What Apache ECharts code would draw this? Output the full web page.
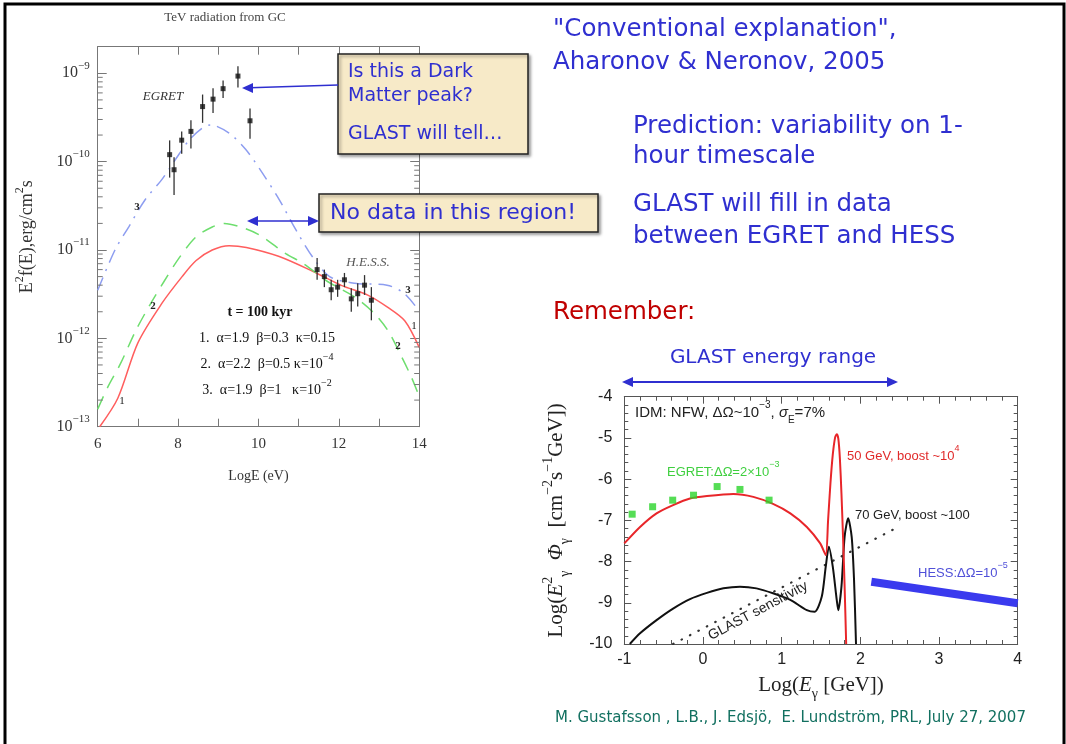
<!DOCTYPE html>
<html><head><meta charset="utf-8">
<script src="https://cdn.jsdelivr.net/npm/echarts@6/dist/echarts.min.js"></script>
<style>html,body{margin:0;padding:0;background:#fff}#c{width:1066px;height:744px}</style>
</head><body><div id="c"></div>
<script>
// ---------- Left panel data (LogE [eV] vs E^2 f(E) [erg/cm^2 s]) ----------
const chartTitle = 'TeV radiation from GC';
const leftXTicks = [6, 8, 10, 12, 14];
const leftYExps = [-13, -12, -11, -10, -9];
const curve1X = [6.05, 6.5, 7.0, 7.6, 8.1, 8.45, 8.85, 9.27, 9.7, 10.5, 11.35, 12.06, 12.72, 13.22, 13.64, 14.0];
const curve1Y = [1.0e-13, 2.1e-13, 8.9e-13, 2.5e-12, 5.0e-12, 7.6e-12, 1.0e-11, 1.12e-11, 1.07e-11, 8.5e-12, 5.75e-12, 3.98e-12, 3.09e-12, 2.24e-12, 1.58e-12, 7.9e-13];
const curve2X = [6.0, 6.25, 6.56, 6.95, 7.3, 7.65, 8.04, 8.45, 8.85, 9.15, 9.68, 10.1, 10.68, 11.1, 11.72, 12.39, 12.89, 13.22, 13.56, 13.81, 14.0];
const curve2Y = [1.58e-13, 2.8e-13, 5.1e-13, 1.23e-12, 2.4e-12, 4.4e-12, 8.3e-12, 1.41e-11, 1.82e-11, 2.0e-11, 1.74e-11, 1.41e-11, 9.1e-12, 7.1e-12, 4.4e-12, 2.95e-12, 1.9e-12, 1.23e-12, 6.2e-13, 3.6e-13, 2.2e-13];
const curve3X = [6.0, 6.43, 6.77, 7.18, 7.6, 7.93, 8.27, 8.6, 8.81, 9.27, 9.68, 10.1, 10.52, 10.93, 11.35, 11.77, 12.4, 13.2, 13.6, 13.9];
const curve3Y = [3.5e-12, 1.0e-11, 1.82e-11, 3.7e-11, 6.3e-11, 1.05e-10, 1.74e-10, 2.4e-10, 2.6e-10, 2.1e-10, 1.38e-10, 7.4e-11, 3.7e-11, 1.7e-11, 8.3e-12, 5.0e-12, 4.2e-12, 4.0e-12, 3.3e-12, 2.34e-12];
const egretX = [7.79, 7.90, 8.09, 8.32, 8.61, 8.87, 9.12, 9.49, 9.79];
const egretY = [1.2e-10, 8.1e-11, 1.75e-10, 2.2e-10, 4.2e-10, 5.1e-10, 6.7e-10, 9.3e-10, 2.9e-10];
const egretHi = [1.74e-10, 1.12e-10, 2.19e-10, 2.95e-10, 5.75e-10, 6.76e-10, 8.3e-10, 1.2e-9, 4.0e-10];
const egretLo = [6.6e-11, 4.2e-11, 1.23e-10, 1.41e-10, 2.75e-10, 3.55e-10, 5.25e-10, 6.9e-10, 1.82e-10];
const hessX = [11.46, 11.64, 11.81, 11.97, 12.14, 12.31, 12.47, 12.64, 12.81];
const hessY = [6.0e-12, 5.0e-12, 3.55e-12, 3.8e-12, 4.6e-12, 2.8e-12, 3.2e-12, 4.0e-12, 2.7e-12];
const hessHi = [8.1e-12, 6.0e-12, 4.6e-12, 4.6e-12, 5.5e-12, 3.7e-12, 4.2e-12, 5.2e-12, 3.8e-12];
const hessLo = [4.6e-12, 3.8e-12, 2.7e-12, 2.95e-12, 3.8e-12, 2.0e-12, 2.3e-12, 3.1e-12, 1.6e-12];
const logMinorMult = [2, 3, 4, 5, 6, 7, 8, 9];

// ---------- Right panel data (Log E_gamma [GeV] vs Log(E^2 Phi)) ----------
const rightXTicks = [-1, 0, 1, 2, 3, 4];
const rightYTicks = [-10, -9, -8, -7, -6, -5, -4];
const egret2X = [-0.90, -0.64, -0.385, -0.12, 0.18, 0.47, 0.84];
const egret2Y = [-6.85, -6.67, -6.51, -6.39, -6.18, -6.25, -6.51];
const redX = [-1, -0.80, -0.59, -0.38, -0.165, 0.05, 0.385, 0.64, 0.89, 1.11, 1.32, 1.49, 1.56, 1.59, 1.62, 1.65, 1.68, 1.70, 1.72, 1.74, 1.76, 1.78, 1.80, 1.82];
const redY = [-7.56, -7.16, -6.83, -6.63, -6.47, -6.41, -6.36, -6.43, -6.60, -6.83, -7.16, -7.56, -7.84, -7.0, -6.1, -5.4, -4.98, -4.91, -5.02, -5.5, -6.35, -7.4, -8.6, -10];
const blackX = [-0.93, -0.80, -0.59, -0.38, -0.165, 0.05, 0.26, 0.47, 0.68, 0.89, 1.11, 1.32, 1.42, 1.51, 1.56, 1.60, 1.65, 1.70, 1.72, 1.76, 1.80, 1.845, 1.89, 1.92, 1.945];
const blackY = [-10, -9.74, -9.42, -9.14, -8.91, -8.76, -8.65, -8.61, -8.65, -8.77, -8.93, -9.18, -9.22, -8.85, -8.13, -7.64, -8.13, -8.93, -9.18, -8.61, -7.40, -6.95, -7.40, -8.45, -10];
const glastSensX = [-0.38, 2.45];
const glastSensY = [-10, -7.19];
const hessBandX = [2.14, 4.0];
const hessBandY = [-8.49, -9.01];

const zip = (a, b) => a.map((v, i) => [v, b[i]]);
const SERIF = '"Liberation Serif","DejaVu Serif",serif';
const SANS = '"Liberation Sans","DejaVu Sans",sans-serif';
const HAND = '"DejaVu Sans","Noto Sans",sans-serif';
const BLUE = '#2f2fd0';

const supRich = (fs, color, fam) => {
  const ss = Math.round(fs * 0.68);
  return {
    b: {fontFamily: fam, fontSize: fs, color: color, fill: color, lineHeight: fs + 10, verticalAlign: 'middle'},
    i: {fontFamily: fam, fontSize: fs, fontStyle: 'italic', color: color, fill: color, lineHeight: fs + 10, verticalAlign: 'middle'},
    s: {fontFamily: fam, fontSize: ss, color: color, fill: color, verticalAlign: 'top', lineHeight: ss},
    d: {fontFamily: fam, fontSize: ss, color: color, fill: color, verticalAlign: 'bottom', lineHeight: ss}
  };
};

const chart = echarts.init(document.getElementById('c'), null, {renderer: 'canvas'});

function arrowHead(x, y, dir, color) {
  return {type: 'polygon', silent: true, z: 20,
    shape: {points: [[x, y], [x - dir * 11, y - 5], [x - dir * 11, y + 5]]},
    style: {fill: color}};
}
function hLine(x1, y1, x2, y2, color, w) {
  return {type: 'line', silent: true, z: 20, shape: {x1, y1, x2, y2}, style: {stroke: color, lineWidth: w}};
}
function txt(x, y, text, opt) {
  return Object.assign({type: 'text', silent: true, z: 30, x: x, y: y,
    style: Object.assign({text: text, verticalAlign: 'middle', align: 'left'}, opt || {})});
}

const handText = (x, y, t, size, color) => txt(x, y, t, {font: `${size}px ${HAND}`, fill: color || BLUE});

const graphics = [
  {type: 'rect', silent: true, z: 0, shape: {x: 5, y: 4, width: 1059, height: 760}, style: {fill: 'none', stroke: '#000', lineWidth: 3}},
  txt(225, 18, chartTitle, {font: `13px ${SERIF}`, fill: '#444', align: 'center'}),
  txt(163, 97, 'EGRET', {font: `italic 13px ${SERIF}`, fill: '#333', align: 'center'}),
  txt(368, 263, 'H.E.S.S.', {font: `italic 13px ${SERIF}`, fill: '#555', align: 'center'}),
  txt(137, 207, '3', {font: `bold 11px ${SERIF}`, fill: '#222', align: 'center'}),
  txt(153, 306, '2', {font: `bold 11px ${SERIF}`, fill: '#222', align: 'center'}),
  txt(122, 401, '1', {font: `11px ${SERIF}`, fill: '#222', align: 'center'}),
  txt(408, 290, '3', {font: `bold 11px ${SERIF}`, fill: '#222', align: 'center'}),
  txt(414, 326, '1', {font: `11px ${SERIF}`, fill: '#222', align: 'center'}),
  txt(398, 346, '2', {font: `bold 11px ${SERIF}`, fill: '#222', align: 'center'}),
  txt(260, 312, 't = 100 kyr', {font: `bold 14px ${SERIF}`, fill: '#111', align: 'center'}),
  txt(267, 338, '{b|1.  α=1.9  β=0.3  κ=0.15}', {align: 'center', rich: supRich(14, '#111', SERIF)}),
  txt(267, 364, '{b|2.  α=2.2  β=0.5 κ=10}{s|−4}', {align: 'center', rich: supRich(14, '#111', SERIF)}),
  txt(267, 390, '{b|3.  α=1.9  β=1   κ=10}{s|−2}', {align: 'center', rich: supRich(14, '#111', SERIF)}),
  {type: 'rect', silent: true, z: 15, shape: {x: 338, y: 54, width: 190, height: 100},
    style: {fill: '#f7eac8', stroke: '#222', lineWidth: 1.5, shadowBlur: 3, shadowOffsetX: 2, shadowOffsetY: 2, shadowColor: 'rgba(0,0,0,0.35)'}},
  handText(348, 72, 'Is this a Dark', 19),
  handText(348, 96, 'Matter peak?', 19),
  handText(348, 134, 'GLAST will tell…', 19),
  {type: 'rect', silent: true, z: 15, shape: {x: 319, y: 194, width: 279, height: 38},
    style: {fill: '#f7eac8', stroke: '#222', lineWidth: 1.5, shadowBlur: 3, shadowOffsetX: 2, shadowOffsetY: 2, shadowColor: 'rgba(0,0,0,0.35)'}},
  handText(330, 213, 'No data in this region!', 22),
  hLine(338, 85, 250, 87.8, BLUE, 1.5), arrowHead(242, 88, -1, BLUE),
  hLine(256, 221, 311, 221, BLUE, 1.5), arrowHead(247, 221, -1, BLUE), arrowHead(319, 221, 1, BLUE),
  handText(553, 30, '"Conventional explanation",', 24.5),
  handText(553, 63, 'Aharonov & Neronov, 2005', 24.5),
  handText(633, 127, 'Prediction: variability on 1-', 24.5),
  handText(633, 157, 'hour timescale', 24.5),
  handText(633, 205, 'GLAST will fill in data', 24.5),
  handText(633, 237, 'between EGRET and HESS', 24.5),
  handText(553, 313, 'Remember:', 24.5, '#c00000'),
  txt(773, 358, 'GLAST energy range', {font: `20px ${HAND}`, fill: BLUE, align: 'center'}),
  hLine(632, 382, 888, 382, BLUE, 2), arrowHead(622, 382, -1, BLUE), arrowHead(898, 382, 1, BLUE),
  txt(555, 718, 'M. Gustafsson , L.B., J. Edsjö,  E. Lundström, PRL, July 27, 2007', {font: `15px ${HAND}`, fill: '#127060'}),
  txt(635, 413, '{b|IDM: NFW, ΔΩ~10}{s|−3}{b|, }{i|σ}{d|E}{b|=7%}', {rich: supRich(15, '#222', SANS)}),
  txt(847, 456, '{b|50 GeV, boost ~10}{s|4}', {rich: supRich(13, '#e02a2a', SANS)}),
  txt(667, 472, '{b|EGRET:ΔΩ=2×10}{s|−3}', {rich: supRich(13, '#3fcf3f', SANS)}),
  txt(855, 515, '70 GeV, boost ~100', {font: `13px ${SANS}`, fill: '#222'}),
  txt(918, 573, '{b|HESS:ΔΩ=10}{s|−5}', {rich: supRich(13, '#5050d8', SANS)}),
  {type: 'text', silent: true, z: 30, x: 758, y: 611, rotation: 28 * Math.PI / 180,
    style: {text: 'GLAST sensitivity', font: `14px ${SANS}`, fill: '#222', align: 'center', verticalAlign: 'middle'}}
];

const leftAxisLine = {onZero: false, lineStyle: {color: '#777', width: 1}};
const rightAxisLine = {onZero: false, lineStyle: {color: '#555', width: 1}};

const option = {
  backgroundColor: '#fff',
  animation: false,
  grid: [
    {left: 97.7, top: 46.7, width: 321.5, height: 380},
    {left: 624.3, top: 396.7, width: 393.4, height: 247.3}
  ],
  xAxis: [
    {gridIndex: 0, type: 'value', min: 6, max: 14, interval: 2, position: 'bottom',
      axisLine: leftAxisLine, splitLine: {show: false},
      axisTick: {inside: true, length: 8, lineStyle: {color: '#777'}},
      minorTick: {show: true, splitNumber: 2, length: 8, lineStyle: {color: '#777'}},
      axisLabel: {margin: 10, fontFamily: SERIF, fontSize: 15, color: '#333',
        formatter: v => leftXTicks.includes(v) ? String(v) : ''},
      name: 'LogE (eV)', nameLocation: 'middle', nameGap: 43,
      nameTextStyle: {fontFamily: SERIF, fontSize: 14, color: '#333'}},
    {gridIndex: 0, type: 'value', min: 6, max: 14, interval: 2, position: 'top',
      axisLine: leftAxisLine, splitLine: {show: false}, axisLabel: {show: false},
      axisTick: {inside: true, length: 8, lineStyle: {color: '#777'}},
      minorTick: {show: true, splitNumber: 2, length: 8, lineStyle: {color: '#777'}}},
    {gridIndex: 1, type: 'value', min: -1, max: 4, interval: 1, position: 'bottom',
      axisLine: rightAxisLine, splitLine: {show: false},
      axisTick: {inside: true, length: 7, lineStyle: {color: '#555'}},
      minorTick: {show: true, splitNumber: 5, length: 4, lineStyle: {color: '#555'}},
      axisLabel: {margin: 8, fontFamily: SANS, fontSize: 16, color: '#222',
        formatter: v => rightXTicks.includes(v) ? String(v) : ''},
      name: '{b|Log(}{i|E}{d|γ}{b| [GeV])}', nameLocation: 'middle', nameGap: 26,
      nameTextStyle: {rich: supRich(21, '#222', SERIF)}},
    {gridIndex: 1, type: 'value', min: -1, max: 4, interval: 1, position: 'top',
      axisLine: rightAxisLine, splitLine: {show: false}, axisLabel: {show: false},
      axisTick: {inside: true, length: 7, lineStyle: {color: '#555'}},
      minorTick: {show: true, splitNumber: 5, length: 4, lineStyle: {color: '#555'}}}
  ],
  yAxis: [
    {gridIndex: 0, type: 'log', logBase: 10, min: 1e-13, max: 2e-9, position: 'left',
      axisLine: leftAxisLine, splitLine: {show: false},
      axisTick: {inside: true, length: 9, lineStyle: {color: '#777'}},
      axisLabel: {margin: 8, showMaxLabel: false, rich: supRich(16, '#333', SERIF),
        formatter: v => {
          const e = Math.round(Math.log10(v));
          return leftYExps.includes(e) ? '{b|10}{s|−' + Math.abs(e) + '}' : '';
        }},
      name: '{b|E}{s|2}{b|f(E),erg/cm}{s|2}{b|s}', nameLocation: 'middle', nameGap: 56,
      nameTextStyle: {rich: supRich(18, '#333', SERIF)}},
    {gridIndex: 0, type: 'log', logBase: 10, min: 1e-13, max: 2e-9, position: 'right',
      axisLine: leftAxisLine, splitLine: {show: false}, axisLabel: {show: false},
      axisTick: {inside: true, length: 9, lineStyle: {color: '#777'}}},
    {gridIndex: 1, type: 'value', min: -10, max: -4, interval: 1, position: 'left',
      axisLine: rightAxisLine, splitLine: {show: false},
      axisTick: {inside: true, length: 7, lineStyle: {color: '#555'}},
      minorTick: {show: true, splitNumber: 5, length: 4, lineStyle: {color: '#555'}},
      axisLabel: {margin: 12, fontFamily: SANS, fontSize: 16, color: '#222',
        formatter: v => rightYTicks.includes(v) ? String(v) : ''},
      name: '{b|Log(}{i|E}{s|2}{d|γ}{b|  }{i|Φ}{d|γ}{b|  [cm}{s|−2}{b|s}{s|−1}{b|GeV])}',
      nameLocation: 'middle', nameGap: 52,
      nameTextStyle: {rich: supRich(21, '#222', SERIF)}},
    {gridIndex: 1, type: 'value', min: -10, max: -4, interval: 1, position: 'right',
      axisLine: rightAxisLine, splitLine: {show: false}, axisLabel: {show: false},
      axisTick: {inside: true, length: 7, lineStyle: {color: '#555'}},
      minorTick: {show: true, splitNumber: 5, length: 4, lineStyle: {color: '#555'}}}
  ],
  graphic: {elements: graphics},
  series: [
    {type: 'line', xAxisIndex: 0, yAxisIndex: 0, data: zip(curve1X, curve1Y), smooth: 0.3, showSymbol: false,
      lineStyle: {color: '#ff5e5e', width: 1.5}},
    {type: 'line', xAxisIndex: 0, yAxisIndex: 0, data: zip(curve2X, curve2Y), smooth: 0.3, showSymbol: false,
      lineStyle: {color: '#6ede6e', width: 1.5, type: [14, 9]}},
    {type: 'line', xAxisIndex: 0, yAxisIndex: 0, data: zip(curve3X, curve3Y), smooth: 0.3, showSymbol: false,
      lineStyle: {color: '#8d9df0', width: 1.5, type: [14, 7, 2, 7]}},
    {type: 'custom', xAxisIndex: 0, yAxisIndex: 0, z: 5,
      data: egretX.map((x, i) => [x, egretLo[i], egretHi[i]]), encode: {x: 0, y: [1, 2]},
      renderItem: (p, api) => {
        const a = api.coord([api.value(0), api.value(1)]), b = api.coord([api.value(0), api.value(2)]);
        return {type: 'line', shape: {x1: a[0], y1: a[1], x2: b[0], y2: b[1]}, style: {stroke: '#333', lineWidth: 1.3}};
      }},
    {type: 'scatter', xAxisIndex: 0, yAxisIndex: 0, z: 6, data: zip(egretX, egretY), symbol: 'rect', symbolSize: 5,
      itemStyle: {color: '#111'}},
    {type: 'custom', xAxisIndex: 0, yAxisIndex: 0, z: 5,
      data: hessX.map((x, i) => [x, hessLo[i], hessHi[i]]), encode: {x: 0, y: [1, 2]},
      renderItem: (p, api) => {
        const a = api.coord([api.value(0), api.value(1)]), b = api.coord([api.value(0), api.value(2)]);
        return {type: 'line', shape: {x1: a[0], y1: a[1], x2: b[0], y2: b[1]}, style: {stroke: '#333', lineWidth: 1.3}};
      }},
    {type: 'scatter', xAxisIndex: 0, yAxisIndex: 0, z: 6, data: zip(hessX, hessY), symbol: 'rect', symbolSize: 5,
      itemStyle: {color: '#111'}},
    {type: 'custom', xAxisIndex: 0, yAxisIndex: 0, z: 4, clip: false,
      data: leftYExps.slice(0, 4).flatMap(e => logMinorMult.map(m => [6, m * Math.pow(10, e)])), encode: {x: 0, y: 1},
      renderItem: (p, api) => {
        const l = api.coord([6, api.value(1)]), r = api.coord([14, api.value(1)]);
        return {type: 'group', children: [
          {type: 'line', shape: {x1: l[0], y1: l[1], x2: l[0] + 5, y2: l[1]}, style: {stroke: '#777', lineWidth: 1}},
          {type: 'line', shape: {x1: r[0] - 5, y1: r[1], x2: r[0], y2: r[1]}, style: {stroke: '#777', lineWidth: 1}}
        ]};
      }},
    {type: 'line', xAxisIndex: 3, yAxisIndex: 3, data: zip(glastSensX, glastSensY), showSymbol: false, z: 2,
      lineStyle: {color: '#333', width: 2.2, type: [0.5, 9], cap: 'round'}},
    {type: 'line', xAxisIndex: 2, yAxisIndex: 2, data: zip(blackX, blackY), smooth: 0.25, showSymbol: false, z: 3,
      lineStyle: {color: '#111', width: 2}},
    {type: 'line', xAxisIndex: 2, yAxisIndex: 2, data: zip(redX, redY), smooth: 0.25, showSymbol: false, z: 4,
      lineStyle: {color: '#e8262a', width: 2}},
    {type: 'line', xAxisIndex: 2, yAxisIndex: 2, data: zip(hessBandX, hessBandY), showSymbol: false, z: 3,
      lineStyle: {color: '#3a3aee', width: 8}},
    {type: 'scatter', xAxisIndex: 2, yAxisIndex: 2, data: zip(egret2X, egret2Y), symbol: 'rect', symbolSize: 7, z: 5,
      itemStyle: {color: '#2bd52b'}}
  ]
};
chart.setOption(option);
</script></body></html>
